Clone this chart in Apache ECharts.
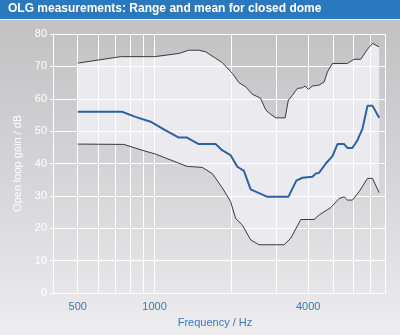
<!DOCTYPE html>
<html>
<head>
<meta charset="utf-8">
<script src="https://cdn.jsdelivr.net/npm/echarts@6/dist/echarts.min.js"></script>
<style>
  html, body { margin: 0; padding: 0; }
  #chart { width: 400px; height: 335px; }
</style>
</head>
<body>
<div id="chart"></div>
<script>
// Upper limit of the measured range
const upperFreq = [500, 736, 1000, 1250, 1360, 1490, 1585, 1735, 1840, 2020, 2140, 2275, 2415, 2600, 2730, 2850, 2985, 3250, 3345, 3470, 3630, 3800, 3890, 4010, 4150, 4410, 4620, 4760, 4980, 5700, 6050, 6430, 6830, 7150, 7590];
const upperGain = [71, 73, 73, 74, 75, 75, 74.5, 72.5, 71.2, 67.8, 65, 63.7, 61.4, 60.2, 56.5, 55.2, 54.1, 54.1, 59.6, 61.1, 63.2, 63.4, 63.9, 62.9, 63.9, 64.2, 65.2, 68.3, 70.9, 70.9, 72.2, 72.2, 75.3, 77.1, 76];

// Mean open loop gain
const meanFreq = [500, 746, 842, 965, 1100, 1245, 1340, 1490, 1735, 1840, 1990, 2110, 2240, 2380, 2770, 3345, 3595, 3800, 4155, 4285, 4410, 4690, 4980, 5210, 5530, 5700, 5960, 6240, 6530, 6830, 7150, 7590];
const meanGain = [56, 56, 54.4, 52.9, 50.3, 48, 48, 46, 46, 44.1, 42.5, 39, 37.7, 32, 29.7, 29.7, 34.7, 35.6, 35.9, 36.9, 37.1, 40, 42.3, 46, 46, 44.8, 44.8, 47.2, 50.8, 57.8, 57.8, 54.1];

// Lower limit of the measured range
const lowerFreq = [500, 758, 894, 1010, 1342, 1537, 1683, 1842, 1987, 2079, 2207, 2381, 2567, 3218, 3418, 3742, 4219, 4414, 4906, 5289, 5533, 5700, 5963, 6333, 6830, 7146, 7590];
const lowerGain = [46, 45.9, 44.1, 42.9, 39.1, 38.8, 36.9, 32.5, 28.2, 23.0, 21.0, 16.4, 14.9, 14.9, 16.9, 22.7, 22.7, 24.1, 26.4, 29.2, 29.7, 28.7, 28.7, 31.3, 35.4, 35.4, 31];

// Axis ticks: grid lines at every frequency, labels only at a few
const gridFreqs = [400, 500, 600, 700, 800, 900, 1000, 2000, 3000, 4000, 5000, 6000, 7000, 8000];
const labelFreqs = [500, 1000, 4000];

const pairs = (xs, ys) => xs.map((x, i) => [x, ys[i]]);
const upperData = pairs(upperFreq, upperGain);
const lowerData = pairs(lowerFreq, lowerGain);
const meanData = pairs(meanFreq, meanGain);

const FONT = 'Liberation Sans';
const chart = echarts.init(document.getElementById('chart'));

chart.setOption({
  backgroundColor: {
    type: 'linear', x: 0, y: 0, x2: 0, y2: 1,
    colorStops: [
      { offset: 0, color: '#bfbfc0' },
      { offset: 0.55, color: '#d6d6d8' },
      { offset: 1, color: '#ededf0' }
    ]
  },
  animation: false,
  graphic: [
    { type: 'rect', left: 0, top: 0, shape: { width: 400, height: 19 }, style: { fill: '#2a78bd' }, z: 10 },
    { type: 'rect', left: 0, top: 19, shape: { width: 400, height: 1 }, style: { fill: '#e8eef5' }, z: 10 }
  ],
  title: {
    text: 'OLG measurements: Range and mean for closed dome',
    left: 8, top: 3, padding: 0,
    textStyle: { color: '#ffffff', fontFamily: FONT, fontWeight: 'bold', fontSize: 12 },
    z: 11
  },
  grid: { left: 53, right: 15, top: 34, bottom: 42 },
  xAxis: {
    type: 'log', logBase: 10, min: 400, max: 8000,
    name: 'Frequency / Hz', nameLocation: 'middle', nameGap: 24,
    nameTextStyle: { color: '#3b78b4', fontFamily: FONT, fontSize: 11, padding: [0, 8, 0, 0] },
    axisLine: { show: true, lineStyle: { color: '#ffffff', width: 1 } },
    axisTick: { show: false, customValues: gridFreqs },
    axisLabel: {
      customValues: gridFreqs,
      formatter: v => (labelFreqs.indexOf(Math.round(v)) >= 0 ? String(Math.round(v)) : ''),
      color: '#3b78b4', fontFamily: FONT, fontSize: 11, margin: 8
    },
    splitLine: { show: true, lineStyle: { color: '#ffffff', width: 1 } }
  },
  yAxis: {
    type: 'value', min: 0, max: 80, interval: 10,
    name: 'Open loop gain / dB', nameLocation: 'middle', nameGap: 30,
    nameTextStyle: { color: '#ffffff', fontFamily: FONT, fontSize: 11 },
    axisLine: { show: true, lineStyle: { color: '#ffffff', width: 1 } },
    axisTick: { show: true, length: 3, lineStyle: { color: '#ffffff' } },
    axisLabel: { color: '#ffffff', fontFamily: FONT, fontSize: 11, margin: 6 },
    splitLine: { show: true, lineStyle: { color: '#ffffff', width: 1 } }
  },
  series: [
    {
      // Shaded band between the lower and upper limits
      type: 'custom', z: -1, silent: true,
      data: [0],
      renderItem: function (params, api) {
        const pts = upperData.map(p => api.coord(p))
          .concat(lowerData.slice().reverse().map(p => api.coord(p)));
        return { type: 'polygon', shape: { points: pts }, style: { fill: '#ebebef' } };
      }
    },
    {
      name: 'Upper', type: 'line', data: upperData, symbol: 'none',
      lineStyle: { color: '#3a3a3a', width: 1 }
    },
    {
      name: 'Lower', type: 'line', data: lowerData, symbol: 'none',
      lineStyle: { color: '#3a3a3a', width: 1 }
    },
    {
      name: 'Mean', type: 'line', data: meanData, symbol: 'none',
      lineStyle: { color: '#2d62a2', width: 2 }
    }
  ]
});
</script>
</body>
</html>
